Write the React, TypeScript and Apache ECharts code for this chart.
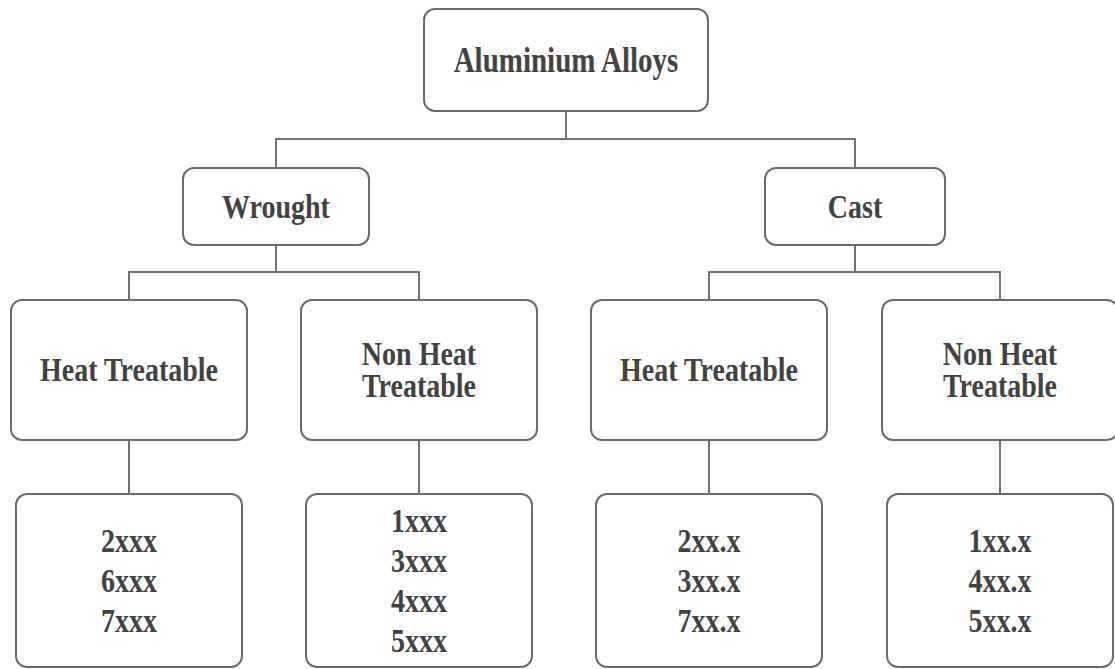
import { useEffect, useRef } from "react";
import * as echarts from "echarts";

// ---- Data (labels of the classification tree) ----
const ROOT_LABEL = "Aluminium Alloys";
const FORM_LABELS = ["Wrought", "Cast"];
const TREATMENT_LABELS = ["Heat Treatable", "Non Heat\nTreatable"];
const WROUGHT_SERIES = [
  ["2xxx", "6xxx", "7xxx"],
  ["1xxx", "3xxx", "4xxx", "5xxx"],
];
const CAST_SERIES = [
  ["2xx.x", "3xx.x", "7xx.x"],
  ["1xx.x", "4xx.x", "5xx.x"],
];

// ---- Layout ----
const W = 1115;
const H = 669;
const ROOT_BOX = { cx: 566, y: 9, w: 284, h: 102 };
const FORM_CX = [276, 855];
const FORM_W = [186, 180];
const FORM_Y = 168;
const FORM_H = 77;
const TREAT_CX = [
  [129, 419],
  [709, 1000],
];
const TREAT_W = 236;
const TREAT_Y = 300;
const TREAT_H = 140;
const SERIES_W = 226;
const SERIES_Y = 494;
const SERIES_H = 173;
const BUS1_Y = 139;
const BUS2_Y = 272;
const TEXT_STRETCH = 1.22;

const BOX_STROKE = "#6b6b6b";
const LINE_STROKE = "#717171";
const TEXT_FILL = "#424242";
const FONT_FAMILY = '"Liberation Serif", "Times New Roman", serif';

function box(cx: number, y: number, w: number, h: number, label: string, fontSize: number, lineHeight: number) {
  return [
    {
      type: "rect",
      shape: { x: cx - w / 2, y, width: w, height: h, r: 11 },
      style: { fill: "#ffffff", stroke: BOX_STROKE, lineWidth: 2 },
      z: 2,
    },
    {
      type: "text",
      x: cx,
      y: y + h / 2,
      scaleY: TEXT_STRETCH,
      style: {
        text: label,
        fill: TEXT_FILL,
        fontFamily: FONT_FAMILY,
        fontWeight: "bold",
        fontSize,
        lineHeight: lineHeight / TEXT_STRETCH,
        align: "center",
        verticalAlign: "middle",
      },
      z: 3,
    },
  ];
}

function line(points: number[][]) {
  return {
    type: "polyline",
    shape: { points },
    style: { stroke: LINE_STROKE, lineWidth: 2, fill: "none" },
    z: 1,
  };
}

export default function App() {
  const ref = useRef<HTMLDivElement>(null);

  useEffect(() => {
    if (!ref.current) return;
    const chart = echarts.init(ref.current, undefined, { renderer: "svg" });
    const elements: any[] = [];

    // root
    elements.push(...box(ROOT_BOX.cx, ROOT_BOX.y, ROOT_BOX.w, ROOT_BOX.h, ROOT_LABEL, 29, 34));
    // root -> forms
    elements.push(line([[ROOT_BOX.cx, ROOT_BOX.y + ROOT_BOX.h], [ROOT_BOX.cx, BUS1_Y]]));
    elements.push(line([[FORM_CX[0], FORM_Y], [FORM_CX[0], BUS1_Y], [FORM_CX[1], BUS1_Y], [FORM_CX[1], FORM_Y]]));

    const seriesByForm = [WROUGHT_SERIES, CAST_SERIES];
    FORM_LABELS.forEach((f, i) => {
      const cx = FORM_CX[i];
      elements.push(...box(cx, FORM_Y, FORM_W[i], FORM_H, f, 28, 32));
      const kids = TREAT_CX[i];
      elements.push(line([[cx, FORM_Y + FORM_H], [cx, BUS2_Y]]));
      elements.push(line([[kids[0], TREAT_Y], [kids[0], BUS2_Y], [kids[1], BUS2_Y], [kids[1], TREAT_Y]]));
      TREATMENT_LABELS.forEach((t, j) => {
        const tcx = kids[j];
        elements.push(...box(tcx, TREAT_Y, TREAT_W, TREAT_H, t, 28, 32));
        elements.push(line([[tcx, TREAT_Y + TREAT_H], [tcx, SERIES_Y]]));
        elements.push(...box(tcx, SERIES_Y, SERIES_W, SERIES_H, seriesByForm[i][j].join("\n"), 28, 40));
      });
    });

    chart.setOption({
      animation: false,
      backgroundColor: "#ffffff",
      graphic: { elements },
    });
    return () => chart.dispose();
  }, []);

  return (
    <div
      ref={ref}
      style={{ position: "fixed", left: 0, top: 0, width: W, height: H, background: "#fff" }}
    />
  );
}
